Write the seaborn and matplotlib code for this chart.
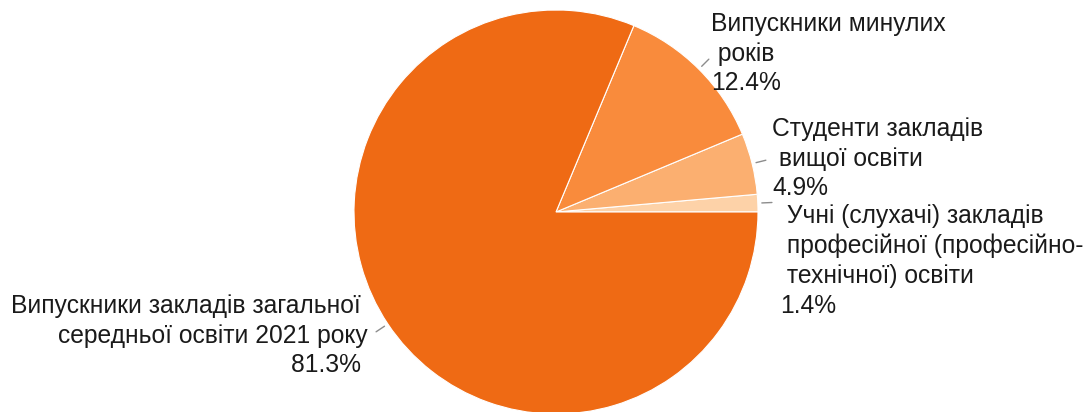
import numpy as np
import seaborn as sns
import matplotlib.pyplot as plt

# shares of participants by category, %
categories = [
    "Учні (слухачі) закладів професійної (професійно-технічної) освіти",
    "Студенти закладів вищої освіти",
    "Випускники минулих років",
    "Випускники закладів загальної середньої освіти 2021 року",
]
values = [1.4, 4.9, 12.4, 81.3]
colors = ["#FDD2A8", "#FBAF70", "#F98B3C", "#EF6A14"]

# label text as in the original (line breaks kept)
labels = [
    " Учні (слухачі) закладів\n професійної (професійно-\n технічної) освіти\n1.4%",
    "Студенти закладів\n вищої освіти\n4.9%",
    "Випускники минулих\n років\n12.4%",
    "Випускники закладів загальної \nсередньої освіти 2021 року\n81.3% ",
]

sns.set_theme(style="white")
plt.rcParams['font.family'] = ['Liberation Sans', 'DejaVu Sans']

W, H = 1088, 412
cx, cy, R = 556, 212, 202  # pie centre / radius in pixels

fig = plt.figure(figsize=(W / 100, H / 100), dpi=100)
ax = fig.add_axes([0, 0, 1, 1])
wedges, _ = ax.pie(values, colors=colors, startangle=0, counterclock=True,
                   radius=1, wedgeprops=dict(edgecolor="white", linewidth=0.8))
ax.set_xlim(-cx / R, (W - cx) / R)
ax.set_ylim(-(H - cy) / R, cy / R)
ax.set_aspect("auto")
ax.axis("off")


def px(x, y):
    return (x - cx) / R, (cy - y) / R


# label anchors (pixels), alignment
label_pos = [(780, 204, "left"), (772, 117, "left"), (711, 12, "left"), (368, 294, "right")]

for w, lab, (x, y, ha) in zip(wedges, labels, label_pos):
    mid = np.deg2rad((w.theta1 + w.theta2) / 2)
    r0, r1 = 1.02, 1.07
    ax.plot([r0 * np.cos(mid), r1 * np.cos(mid)], [r0 * np.sin(mid), r1 * np.sin(mid)],
            color="#8c8c8c", lw=1, clip_on=False)
    tx, ty = px(x, y)
    ax.text(tx, ty, lab, ha=ha, va="top", multialignment=ha,
            fontsize=17.7, color="#1a1a1a", linespacing=1.3)

fig.savefig("out.png", dpi=100)
